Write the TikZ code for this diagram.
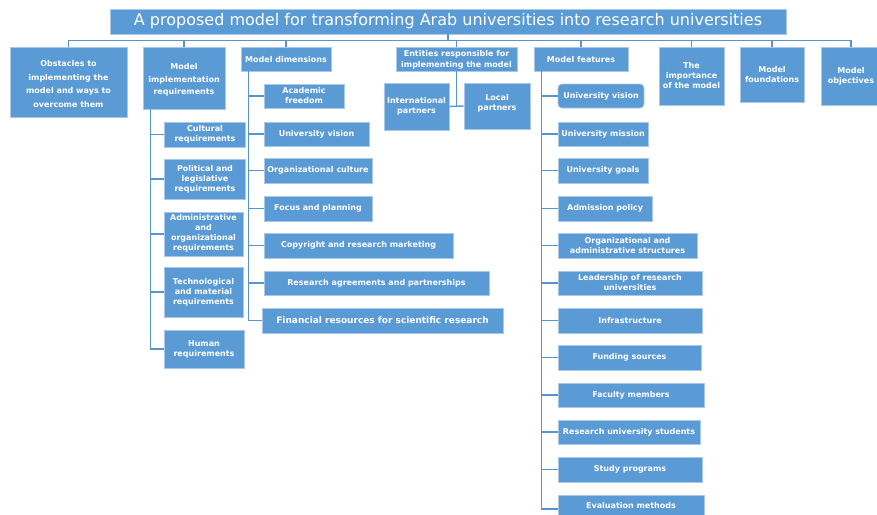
\documentclass[tikz,border=0pt]{standalone}
\usepackage{fontspec}
\setmainfont{DejaVu Sans}
\definecolor{boxblue}{RGB}{91,155,213}
\definecolor{lineblue}{RGB}{88,148,205}
\definecolor{edgeblue}{RGB}{170,200,232}
\begin{document}
\begin{tikzpicture}[x=1pt,y=-1pt,
  box/.style={draw=edgeblue,line width=0.6pt,fill=boxblue,inner sep=0pt},
  boxtext/.style={text=white,font=\bfseries\fontsize{8}{10}\selectfont,align=center,inner sep=0pt},
  conn/.style={draw=lineblue,line width=1.4pt}]
\useasboundingbox (0,0) rectangle (877,514);
% title
\node[box,minimum width=676pt,minimum height=25pt,text=white,font=\fontsize{16}{18}\selectfont] (title) at (448,21.5) {A proposed model for transforming Arab universities into research universities};
% top row
\node[box,minimum width=117pt,minimum height=70pt] (obs) at (68.5,82) {};
\node[boxtext,font=\bfseries\fontsize{8}{13.8}\selectfont] at (68.5,84) {Obstacles to\\implementing the\\model and ways to\\overcome them};
\node[box,minimum width=82pt,minimum height=62pt] (mreq) at (184,78) {};
\node[boxtext,font=\bfseries\fontsize{8}{12.5}\selectfont] at (184,80) {Model\\implementation\\requirements};
\node[box,minimum width=90pt,minimum height=24pt] (mdim) at (286,59) {};
\node[boxtext] at (286,59.5) {Model dimensions};
\node[box,minimum width=121pt,minimum height=24pt] (ent) at (456.5,59) {};
\node[boxtext,font=\bfseries\fontsize{8}{11}\selectfont] at (456.5,59.5) {Entities responsible for\\implementing the model};
\node[box,minimum width=94pt,minimum height=24pt] (mfeat) at (581,59) {};
\node[boxtext] at (581,59.5) {Model features};
\node[box,minimum width=65pt,minimum height=58pt] (imp) at (691.5,76) {};
\node[boxtext] at (691.5,76) {The\\importance\\of the model};
\node[box,minimum width=64pt,minimum height=55pt] (found) at (772,74.5) {};
\node[boxtext] at (772,74.5) {Model\\foundations};
\node[box,minimum width=62pt,minimum height=58pt] (obj) at (852,76) {};
\node[boxtext] at (851,76) {Model\\objectives};
% entities children
\node[box,minimum width=65pt,minimum height=47pt] (intl) at (416.5,106.5) {};
\node[boxtext] at (416.5,106.5) {International\\partners};
\node[box,minimum width=66pt,minimum height=46pt] (local) at (497,106) {};
\node[boxtext] at (497,103) {Local\\partners};
% requirements children
\node[box,minimum width=81pt,minimum height=25pt] (r1) at (205,134.5) {};
\node[boxtext] at (205,134.5) {Cultural\\requirements};
\node[box,minimum width=81pt,minimum height=40pt] (r2) at (205,179) {};
\node[boxtext] at (205,179) {Political and\\legislative\\requirements};
\node[box,minimum width=79pt,minimum height=44pt] (r3) at (203.5,234) {};
\node[boxtext] at (203.5,233) {Administrative\\and\\organizational\\requirements};
\node[box,minimum width=79pt,minimum height=50pt] (r4) at (203.5,292) {};
\node[boxtext] at (203.5,292) {Technological\\and material\\requirements};
\node[box,minimum width=80pt,minimum height=38pt] (r5) at (204,349) {};
\node[boxtext] at (204,349) {Human\\requirements};
% dimensions children
\node[box,minimum width=80pt,minimum height=24pt] (d1) at (304,96) {};
\node[boxtext] at (304,96) {Academic\\freedom};
\node[box,minimum width=105pt,minimum height=24pt] (d2) at (316.5,134) {};
\node[boxtext] at (316.5,134) {University vision};
\node[box,minimum width=108pt,minimum height=25pt] (d3) at (318,170.5) {};
\node[boxtext] at (318,170.5) {Organizational culture};
\node[box,minimum width=108pt,minimum height=25pt] (d4) at (318,208.5) {};
\node[boxtext] at (318,208.5) {Focus and planning};
\node[box,minimum width=189pt,minimum height=25pt] (d5) at (358.5,245.5) {};
\node[boxtext] at (358.5,245.5) {Copyright and research marketing};
\node[box,minimum width=225pt,minimum height=24pt] (d6) at (376.5,283) {};
\node[boxtext] at (376.5,283) {Research agreements and partnerships};
\node[box,minimum width=241pt,minimum height=25pt] (d7) at (382.5,320.5) {};
\node[boxtext,font=\bfseries\fontsize{9}{10}\selectfont] at (382.5,320.5) {Financial resources for scientific research};
% features children
\node[box,rounded corners=4pt,minimum width=86pt,minimum height=24pt] (f1) at (601,96) {};
\node[boxtext] at (601,96) {University vision};
\node[box,minimum width=90pt,minimum height=24pt] (f2) at (603,134) {};
\node[boxtext] at (603,134) {University mission};
\node[box,minimum width=90pt,minimum height=25pt] (f3) at (603,170.5) {};
\node[boxtext] at (603,170.5) {University goals};
\node[box,minimum width=94pt,minimum height=25pt] (f4) at (605,208.5) {};
\node[boxtext] at (605,208.5) {Admission policy};
\node[box,minimum width=139pt,minimum height=25pt] (f5) at (627.5,245.5) {};
\node[boxtext] at (627.5,245.5) {Organizational and\\administrative structures};
\node[box,minimum width=144pt,minimum height=24pt] (f6) at (630,283) {};
\node[boxtext] at (630,283) {Leadership of research\\universities};
\node[box,minimum width=144pt,minimum height=25pt] (f7) at (630,320.5) {};
\node[boxtext] at (630,320.5) {Infrastructure};
\node[box,minimum width=143pt,minimum height=25pt] (f8) at (629.5,357.5) {};
\node[boxtext] at (629.5,357.5) {Funding sources};
\node[box,minimum width=146pt,minimum height=24pt] (f9) at (631,395) {};
\node[boxtext] at (631,395) {Faculty members};
\node[box,minimum width=142pt,minimum height=24pt] (f10) at (629,432) {};
\node[boxtext] at (629,432) {Research university students};
\node[box,minimum width=144pt,minimum height=25pt] (f11) at (630,469.5) {};
\node[boxtext] at (630,469.5) {Study programs};
\node[box,minimum width=146pt,minimum height=25pt] (f12) at (631,507.5) {};
\node[boxtext] at (631,506) {Evaluation methods};
% connectors: title to top row
\foreach \b in {obs,mreq,mdim,ent,mfeat,imp,found}
  \draw[conn] (title.south) -- ++(0,6) -| (\b.north);
\draw[conn] (title.south) -- ++(0,6) -| ([xshift=-1pt]obj.north);
% requirements
\foreach \c in {r1,r2,r3,r4,r5}
  \draw[conn] ([xshift=8pt]mreq.south west) |- (\c.west);
% dimensions
\foreach \c in {d1,d2,d3,d4,d5,d6,d7}
  \draw[conn] ([xshift=8pt]mdim.south west) |- (\c.west);
% features
\foreach \c in {f1,f2,f3,f4,f5,f6,f7,f8,f9,f10,f11}
  \draw[conn] ([xshift=8pt]mfeat.south west) |- (\c.west);
\draw[conn] ([xshift=8pt]mfeat.south west) |- ([yshift=-1.5pt]f12.west);
% entities
\draw[conn] (ent.south) -- (ent.south |- intl.east);
\draw[conn] (intl.east) -- (local.west);
\end{tikzpicture}
\end{document}
